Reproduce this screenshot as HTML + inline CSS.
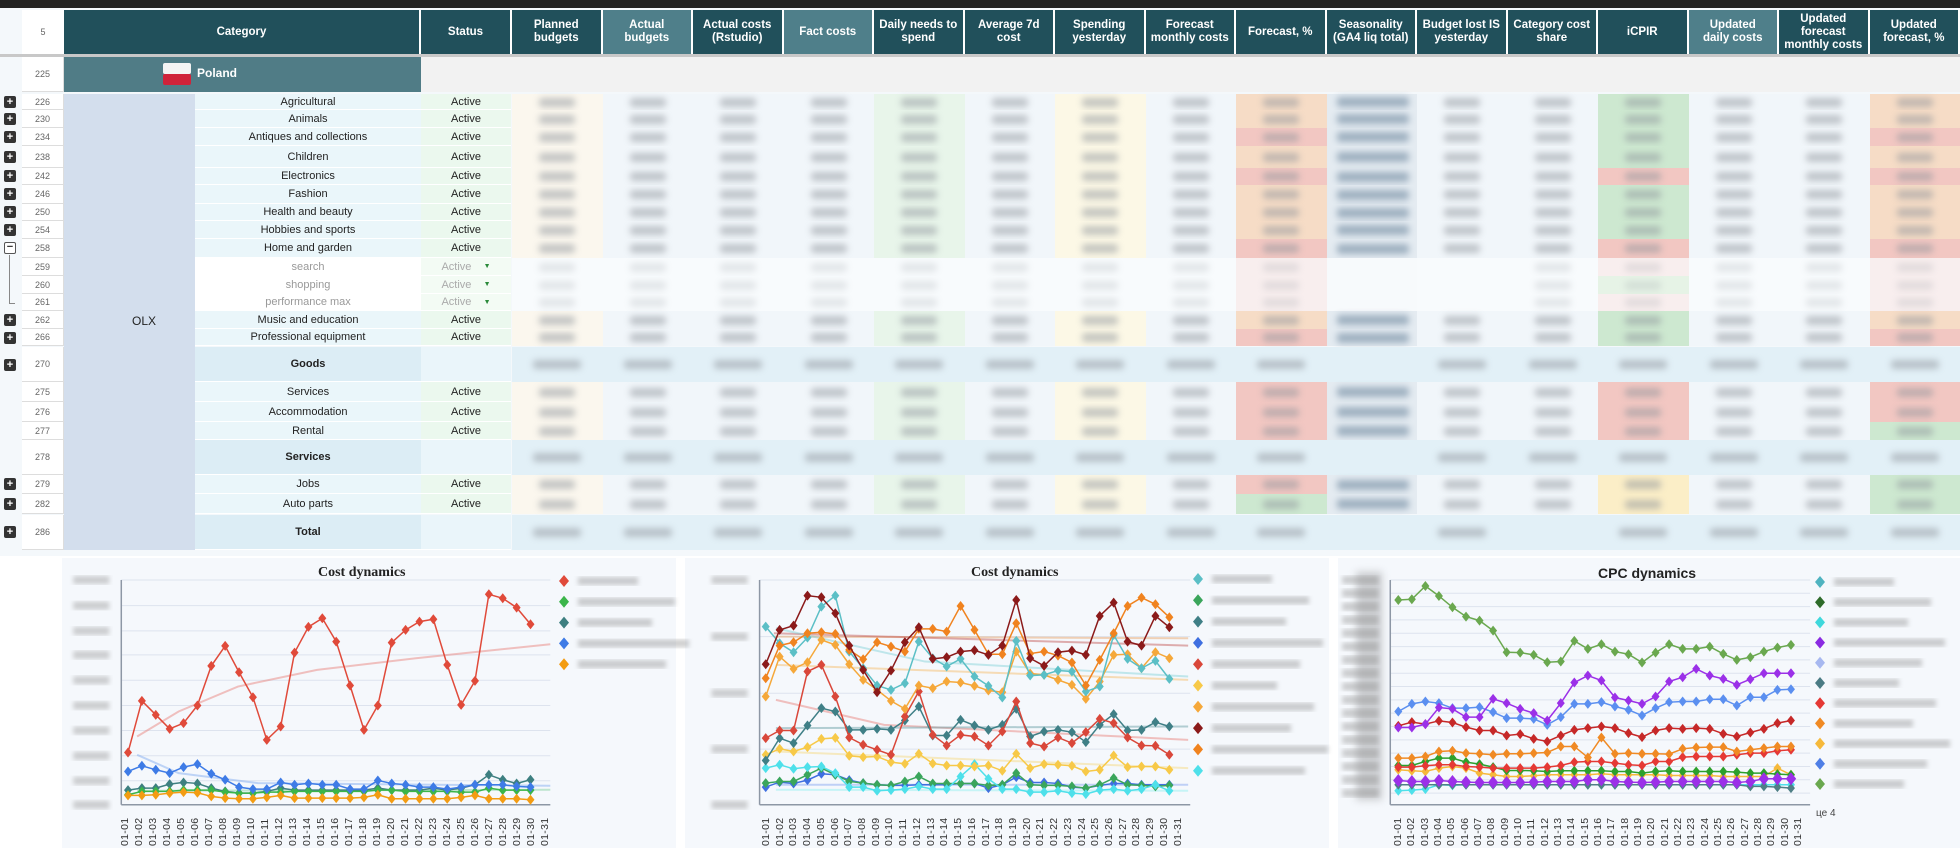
<!DOCTYPE html>
<html><head><meta charset="utf-8">
<style>
*{margin:0;padding:0;box-sizing:border-box}
body{width:1960px;height:848px;background:#fff;position:relative;overflow:hidden;font-family:"Liberation Sans",Arial,sans-serif}
.a{position:absolute}
.hd{position:absolute;top:10px;height:44px;background:#21505b;color:#fff;font-weight:bold;font-size:11.5px;display:flex;align-items:center;justify-content:center;text-align:center;line-height:13px;border-right:2px solid #fff}
.hd.l{background:#4f7f8a}
.rn{position:absolute;left:22px;width:42px;font-size:9px;color:#666;display:flex;align-items:center;justify-content:center;background:#fff;border-bottom:1px solid #ddd;border-right:1px solid #ddd}
.cat{position:absolute;left:195px;width:226px;font-size:11px;color:#222;display:flex;align-items:center;justify-content:center;background:#eaf6fa;border-bottom:1px solid #fff}
.st{position:absolute;left:421px;width:90px;font-size:11px;color:#222;display:flex;align-items:center;justify-content:center;background:#ebf8ee;border-bottom:1px solid #fff}
.sub{color:#999;background:#fff}
.sts{color:#aaa;background:#f3fbf4}
.pl{position:absolute;left:4px;width:12px;height:12px;background:#333;border-radius:2px;color:#fff;font-size:11px;line-height:12px;text-align:center;font-weight:bold}
.blob{position:absolute;height:9px;background:#8d939a;filter:blur(3.5px);opacity:.5;border-radius:3px}
.xl{position:absolute;display:flex;justify-content:space-between;top:806px;height:40px}
.xl span{writing-mode:vertical-rl;transform:rotate(180deg);font-size:10.5px;color:#333;font-family:"Liberation Sans",sans-serif;letter-spacing:.3px}
.ttl{position:absolute;font-family:"Liberation Serif",serif;font-weight:bold;font-size:14px;color:#222}
</style></head><body>
<div class="a" style="left:0;top:0;width:1960px;height:8px;background:#222"></div>
<div class="a" style="left:0;top:8px;width:1960px;height:548px;background:#f4f8fb"></div>
<div class="a" style="left:22px;top:10px;width:42px;height:44px;background:#fff;font-size:9px;color:#666;display:flex;align-items:center;justify-content:center">5</div>
<div class="hd" style="left:64px;width:357px">Category</div>
<div class="hd" style="left:421px;width:91px">Status</div>
<div class="hd" style="left:512px;width:90.5px">Planned<br>budgets</div>
<div class="hd l" style="left:602.5px;width:90.5px">Actual<br>budgets</div>
<div class="hd" style="left:693px;width:90.5px">Actual costs<br>(Rstudio)</div>
<div class="hd l" style="left:783.5px;width:90.5px">Fact costs</div>
<div class="hd" style="left:874px;width:90.5px">Daily needs to<br>spend</div>
<div class="hd" style="left:964.5px;width:90.5px">Average 7d<br>cost</div>
<div class="hd" style="left:1055px;width:90.5px">Spending<br>yesterday</div>
<div class="hd" style="left:1145.5px;width:90.5px">Forecast<br>monthly costs</div>
<div class="hd" style="left:1236px;width:90.5px">Forecast, %</div>
<div class="hd" style="left:1326.5px;width:90.5px">Seasonality<br>(GA4 liq total)</div>
<div class="hd" style="left:1417px;width:90.5px">Budget lost IS<br>yesterday</div>
<div class="hd" style="left:1507.5px;width:90.5px">Category cost<br>share</div>
<div class="hd" style="left:1598px;width:90.5px">iCPIR</div>
<div class="hd l" style="left:1688.5px;width:90.5px">Updated<br>daily costs</div>
<div class="hd" style="left:1779px;width:90.5px">Updated<br>forecast<br>monthly costs</div>
<div class="hd" style="left:1869.5px;width:90.5px">Updated<br>forecast, %</div>
<div class="a" style="left:0;top:54px;width:1960px;height:3px;background:#c8c8c8"></div>
<div class="a" style="left:64px;top:57px;width:1896px;height:35px;background:#f2f2f2"></div>
<div class="a" style="left:64px;top:57px;width:357px;height:35px;background:#507c86"></div>
<div class="a" style="left:163px;top:63px;width:28px;height:11px;background:#f4f4f4;border-radius:2px"></div>
<div class="a" style="left:163px;top:74px;width:28px;height:11px;background:#d0233a;border-radius:2px"></div>
<div class="a" style="left:197px;top:66px;color:#fff;font-weight:bold;font-size:12px">Poland</div>
<div class="rn" style="top:57px;height:35px">225</div>
<div class="a" style="left:64px;top:94px;width:131px;height:456px;background:#d3deed"></div>
<div class="a" style="left:132px;top:314px;font-size:12px;color:#222">OLX</div>
<div id="cells"></div>

<div class="rn" style="top:94px;height:16px">226</div><div class="cat" style="top:94px;height:16px">Agricultural</div><div class="st" style="top:94px;height:16px">Active</div>
<div class="rn" style="top:110px;height:18px">230</div><div class="cat" style="top:110px;height:18px">Animals</div><div class="st" style="top:110px;height:18px">Active</div>
<div class="rn" style="top:128px;height:18px">234</div><div class="cat" style="top:128px;height:18px">Antiques and collections</div><div class="st" style="top:128px;height:18px">Active</div>
<div class="rn" style="top:146px;height:22px">238</div><div class="cat" style="top:146px;height:22px">Children</div><div class="st" style="top:146px;height:22px">Active</div>
<div class="rn" style="top:168px;height:17px">242</div><div class="cat" style="top:168px;height:17px">Electronics</div><div class="st" style="top:168px;height:17px">Active</div>
<div class="rn" style="top:185px;height:19px">246</div><div class="cat" style="top:185px;height:19px">Fashion</div><div class="st" style="top:185px;height:19px">Active</div>
<div class="rn" style="top:204px;height:17px">250</div><div class="cat" style="top:204px;height:17px">Health and beauty</div><div class="st" style="top:204px;height:17px">Active</div>
<div class="rn" style="top:221px;height:18px">254</div><div class="cat" style="top:221px;height:18px">Hobbies and sports</div><div class="st" style="top:221px;height:18px">Active</div>
<div class="rn" style="top:239px;height:19px">258</div><div class="cat" style="top:239px;height:19px">Home and garden</div><div class="st" style="top:239px;height:19px">Active</div>
<div class="rn" style="top:258px;height:18px">259</div><div class="cat sub" style="top:258px;height:18px">search</div><div class="st sts" style="top:258px;height:18px">Active&nbsp;&nbsp;&nbsp;&nbsp;<span style="color:#2a8a3a;font-size:7px">▼</span></div>
<div class="rn" style="top:276px;height:18px">260</div><div class="cat sub" style="top:276px;height:18px">shopping</div><div class="st sts" style="top:276px;height:18px">Active&nbsp;&nbsp;&nbsp;&nbsp;<span style="color:#2a8a3a;font-size:7px">▼</span></div>
<div class="rn" style="top:294px;height:17px">261</div><div class="cat sub" style="top:294px;height:17px">performance max</div><div class="st sts" style="top:294px;height:17px">Active&nbsp;&nbsp;&nbsp;&nbsp;<span style="color:#2a8a3a;font-size:7px">▼</span></div>
<div class="rn" style="top:311px;height:18px">262</div><div class="cat" style="top:311px;height:18px">Music and education</div><div class="st" style="top:311px;height:18px">Active</div>
<div class="rn" style="top:329px;height:17px">266</div><div class="cat" style="top:329px;height:17px">Professional equipment</div><div class="st" style="top:329px;height:17px">Active</div>
<div class="rn" style="top:347px;height:35px">270</div><div class="cat" style="top:347px;height:35px;background:#dcedf5;font-weight:bold">Goods</div><div class="st" style="top:347px;height:35px;background:#eaf5fa"></div>
<div class="rn" style="top:382px;height:20px">275</div><div class="cat" style="top:382px;height:20px">Services</div><div class="st" style="top:382px;height:20px">Active</div>
<div class="rn" style="top:402px;height:20px">276</div><div class="cat" style="top:402px;height:20px">Accommodation</div><div class="st" style="top:402px;height:20px">Active</div>
<div class="rn" style="top:422px;height:18px">277</div><div class="cat" style="top:422px;height:18px">Rental</div><div class="st" style="top:422px;height:18px">Active</div>
<div class="rn" style="top:440px;height:35px">278</div><div class="cat" style="top:440px;height:35px;background:#dcedf5;font-weight:bold">Services</div><div class="st" style="top:440px;height:35px;background:#eaf5fa"></div>
<div class="rn" style="top:475px;height:19px">279</div><div class="cat" style="top:475px;height:19px">Jobs</div><div class="st" style="top:475px;height:19px">Active</div>
<div class="rn" style="top:494px;height:20px">282</div><div class="cat" style="top:494px;height:20px">Auto parts</div><div class="st" style="top:494px;height:20px">Active</div>
<div class="rn" style="top:515px;height:35px">286</div><div class="cat" style="top:515px;height:35px;background:#dcedf5;font-weight:bold">Total</div><div class="st" style="top:515px;height:35px;background:#eaf5fa"></div>
<div id="pls"></div>

<div class="a" style="left:62px;top:558px;width:614px;height:290px;background:#f5f8fc"></div>
<div class="a" style="left:685px;top:558px;width:644px;height:290px;background:#f5f8fc"></div>
<div class="a" style="left:1338px;top:558px;width:622px;height:290px;background:#f5f8fc"></div>
<div class="a" style="left:1356px;top:572px;width:26px;height:228px;background:#c8cacd;filter:blur(4px)"></div>
<svg class="a" id="ch" style="left:0;top:0" width="1960" height="848"></svg>
<div class="ttl" style="left:318px;top:565px">Cost dynamics</div>
<div class="ttl" style="left:971px;top:565px">Cost dynamics</div>
<div class="ttl" style="left:1598px;top:565px;font-family:'Liberation Sans',sans-serif">CPC dynamics</div>
<div class="a" style="left:1816px;top:808px;font-size:10px;color:#444">це 4</div>
<div class="xl" style="left:119px;width:432px"><span>01-01</span><span>01-02</span><span>01-03</span><span>01-04</span><span>01-05</span><span>01-06</span><span>01-07</span><span>01-08</span><span>01-09</span><span>01-10</span><span>01-11</span><span>01-12</span><span>01-13</span><span>01-14</span><span>01-15</span><span>01-16</span><span>01-17</span><span>01-18</span><span>01-19</span><span>01-20</span><span>01-21</span><span>01-22</span><span>01-23</span><span>01-24</span><span>01-25</span><span>01-26</span><span>01-27</span><span>01-28</span><span>01-29</span><span>01-30</span><span>01-31</span></div>
<div class="xl" style="left:760px;width:424px"><span>01-01</span><span>01-02</span><span>01-03</span><span>01-04</span><span>01-05</span><span>01-06</span><span>01-07</span><span>01-08</span><span>01-09</span><span>01-10</span><span>01-11</span><span>01-12</span><span>01-13</span><span>01-14</span><span>01-15</span><span>01-16</span><span>01-17</span><span>01-18</span><span>01-19</span><span>01-20</span><span>01-21</span><span>01-22</span><span>01-23</span><span>01-24</span><span>01-25</span><span>01-26</span><span>01-27</span><span>01-28</span><span>01-29</span><span>01-30</span><span>01-31</span></div>
<div class="xl" style="left:1392px;width:412px"><span>01-01</span><span>01-02</span><span>01-03</span><span>01-04</span><span>01-05</span><span>01-06</span><span>01-07</span><span>01-08</span><span>01-09</span><span>01-10</span><span>01-11</span><span>01-12</span><span>01-13</span><span>01-14</span><span>01-15</span><span>01-16</span><span>01-17</span><span>01-18</span><span>01-19</span><span>01-20</span><span>01-21</span><span>01-22</span><span>01-23</span><span>01-24</span><span>01-25</span><span>01-26</span><span>01-27</span><span>01-28</span><span>01-29</span><span>01-30</span><span>01-31</span></div>

<script>
(function(){
var rows=[[94,16,'n'],[110,18,'n'],[128,18,'n'],[146,22,'n'],[168,17,'n'],[185,19,'n'],[204,17,'n'],[221,18,'n'],[239,19,'n'],[258,18,'s'],[276,18,'s'],[294,17,'s'],[311,18,'n'],[329,17,'n'],[347,35,'t'],[382,20,'n'],[402,20,'n'],[422,18,'n'],[440,35,'t'],[475,19,'n'],[494,20,'n'],[515,35,'t']];
var P='#f6dcc6',R='#f2c7c2',G='#cde8d0',YL='#fbeec7',K='#f8eeee';
var fc=[P,P,R,P,R,P,P,P,R,K,K,K,P,R,null,R,R,R,null,R,G,null];
var ic=[G,G,G,G,R,G,G,G,R,K,'#e6f3e6',K,G,G,null,R,R,R,null,YL,YL,null];
var uc=[P,P,R,P,R,P,P,P,R,K,K,K,P,R,null,R,R,G,null,G,G,null];
var base=['#fbf7ee','#f1f6fa','#f1f6fa','#f1f6fa','#e8f5ea','#f1f6fa','#fcf8e6','#f1f6fa',null,'#f1f6fa','#f1f6fa','#f1f6fa',null,'#f1f6fa','#f1f6fa',null];
var h='';
rows.forEach(function(r,i){
 for(var c=0;c<16;c++){
  var x=512+c*90.5,bg;
  if(r[2]=='t')bg='#e2f0f7';
  else if(c==8)bg=fc[i];else if(c==12)bg=ic[i];else if(c==15)bg=uc[i];
  else if(c==9)bg=r[2]=='s'?'#f7fafc':'#e4ebf1';
  else bg=r[2]=='s'?'#f8fbfd':base[c];
  h+='<div class="a" style="left:'+x+'px;top:'+r[0]+'px;width:91px;height:'+r[1]+'px;background:'+bg+'"></div>';
  var skip=(r[2]=='t'&&(c==9||(i==21&&(c==11))))||(r[2]=='s'&&(c==9||c==10));
  if(c==9&&r[2]=='n'){h+='<div class="blob" style="left:'+(x+10)+'px;top:'+(r[0]+r[1]/2-5)+'px;width:72px;height:10px;background:#4a6a86;opacity:.45"></div>';continue;}
  if(!skip){var w=r[2]=='t'?48:36;h+='<div class="blob" style="left:'+(x+45-w/2)+'px;top:'+(r[0]+r[1]/2-4.5)+'px;width:'+w+'px;'+(r[2]=='s'?'opacity:.2':'')+'"></div>';}
 }
});
document.getElementById('cells').innerHTML=h;
var p='';
[102,119,137,157,176,194,212,230,320,338,365,484,504,532].forEach(function(y){p+='<div class="pl" style="top:'+(y-6)+'px">+</div>';});
p+='<div class="pl" style="top:242px;background:#fff;border:1px solid #555;color:#333;line-height:9px">−</div><div class="a" style="left:9px;top:255px;width:1px;height:48px;background:#888"></div><div class="a" style="left:9px;top:303px;width:6px;height:1px;background:#888"></div>';
document.getElementById('pls').innerHTML=p;

var s='<defs><filter id="b"><feGaussianBlur stdDeviation="2.5"/></filter></defs>';
function YY(v){return 555+v*0.333;}
function chart(ox,sc,x0,dx,grid,axL,axR,series,trends,leg,legX,legY0,legDy,ds){
 grid.forEach(function(g){s+='<line x1="'+(ox+axL*sc)+'" x2="'+(ox+axR*sc)+'" y1="'+YY(g)+'" y2="'+YY(g)+'" stroke="#dde3ee" stroke-width="1"/>';});
 s+='<line x1="'+(ox+axL*sc)+'" x2="'+(ox+axL*sc)+'" y1="'+YY(75)+'" y2="'+YY(750)+'" stroke="#8d97a5" stroke-width="1.5"/>';
 s+='<line x1="'+(ox+axL*sc)+'" x2="'+(ox+axR*sc)+'" y1="'+YY(750)+'" y2="'+YY(750)+'" stroke="#8d97a5" stroke-width="1.5"/>';
 grid.forEach(function(g){s+='<rect x="'+(ox+axL*sc-48)+'" y="'+(YY(g)-4)+'" width="36" height="8" fill="#999" opacity=".45" filter="url(#b)"/>';});
 trends.forEach(function(t){s+='<polyline fill="none" stroke="'+t[0]+'" stroke-width="2" opacity=".45" points="'+t[1].map(function(q){return (ox+q[0]*sc)+','+YY(q[1]);}).join(' ')+'"/>';});
 series.forEach(function(se){
  var pts=se[1].map(function(v,i){return [ox+(x0+i*dx)*sc,YY(v)];});
  s+='<polyline fill="none" stroke="'+se[0]+'" stroke-width="1.5" points="'+pts.map(function(q){return q.join(',');}).join(' ')+'"/>';
  var d=se[2]||ds;
  pts.forEach(function(q){s+='<path d="M'+q[0]+' '+(q[1]-d)+'L'+(q[0]+d*.8)+' '+q[1]+'L'+q[0]+' '+(q[1]+d)+'L'+(q[0]-d*.8)+' '+q[1]+'Z" fill="'+se[0]+'"/>';});
 });
 leg.forEach(function(c,i){var y=legY0+i*legDy;s+='<path d="M'+legX+' '+(y-6)+'L'+(legX+5)+' '+y+'L'+legX+' '+(y+6)+'L'+(legX-5)+' '+y+'Z" fill="'+c+'"/><rect x="'+(legX+14)+'" y="'+(y-4)+'" width="'+(60+(i*37)%60)+'" height="8" fill="#888" opacity=".4" filter="url(#b)"/>';});
}
var sc1=620/1568;
chart(60,sc1,172,35.1,[75,152,228,300,376,452,527,603,678,750],155,1240,[
['#3d7f80',[706,700,700,688,683,686,700,710,715,715,710,700,706,706,706,706,706,706,700,706,706,706,700,706,700,690,660,675,686,675]],
['#3bb54a',[720,710,710,710,706,706,706,712,715,715,712,712,710,710,710,710,710,710,706,706,710,710,710,710,712,712,700,706,706,706]],
['#f39c12',[722,722,720,715,712,714,725,730,732,732,728,722,730,730,730,730,730,728,720,732,732,732,732,732,728,722,732,732,732,735]],
['#3e7be6',[650,633,645,655,637,628,657,675,697,703,703,683,690,686,690,690,703,703,677,686,690,697,697,703,697,690,690,690,695,697]],
['#e04a3a',[593,438,480,522,505,452,333,273,352,427,555,515,293,216,190,260,392,525,452,263,225,200,193,330,450,378,118,130,158,208]]
],[['#e87b74',[[195,545],[300,470],[450,395],[650,345],[900,310],[1240,268]]],['#7aa6f0',[[195,600],[300,655],[500,685],[1240,693]]],['#7ccf9a',[[195,708],[1240,705]]]],
['#e04a3a','#3bb54a','#3d7f80','#3e7be6','#f39c12'],564,581,20.8,5);
var sc2=640/1568;
chart(680,sc2,210,34.1,[75,245,415,583,750],195,1250,[
['#3f6fe0',[697,682,686,676,657,660,676,685,690,692,692,690,690,690,686,686,700,690,667,683,683,686,697,700,692,686,686,690,690,690]],
['#3aa55b',[685,680,680,660,640,660,680,685,690,692,680,665,686,686,686,686,692,690,655,690,692,692,695,700,690,670,690,692,695,692]],
['#4ee0ea',[640,630,642,637,635,655,697,697,708,706,703,695,703,703,665,628,672,703,703,712,712,708,715,718,706,703,708,703,690,708]],
['#f7c948',[600,582,590,577,552,549,603,607,605,622,627,597,626,632,632,635,632,648,597,640,628,630,633,650,645,602,637,635,635,645]],
['#3f7f86',[617,550,565,512,460,470,525,525,522,525,497,455,542,542,495,512,525,510,462,545,530,525,532,562,510,478,527,525,502,515]],
['#d9473a',[550,527,527,350,330,425,548,570,585,600,485,410,540,572,540,545,572,530,440,565,575,548,565,532,492,505,548,572,573,600]],
['#f5a83a',[425,305,342,322,255,270,328,375,405,438,462,392,400,380,383,393,407,412,290,356,360,375,390,432,380,300,298,340,292,310]],
['#5bbfc6',[215,265,292,248,155,122,290,340,392,405,385,260,310,335,312,365,393,428,258,362,360,347,350,410,395,240,312,340,318,372]],
['#f0831f',[370,272,262,235,232,237,285,313,262,275,290,222,222,230,153,225,298,298,205,296,290,302,323,392,315,235,153,128,148,187]],
['#8b1a1a',[328,225,212,122,127,175,272,345,412,347,262,217,312,307,290,286,300,272,135,310,333,292,287,300,183,143,260,272,183,217]]
],[['#e8a060',[[230,245],[1245,250]]],['#c0504d',[[230,235],[1245,272]]],['#7fd0d6',[[235,220],[600,320],[1245,365]]],['#f7b860',[[235,330],[1245,375]]],['#e87b74',[[235,435],[500,510],[1245,555]]],['#5f9aa0',[[235,520],[1245,515]]],['#f7d878',[[235,590],[1245,640]]],['#7fa0f0',[[235,690],[1245,690]]],['#8ef0f0',[[235,705],[1245,708]]]],
['#5bbfc6','#3aa55b','#3f7f86','#3f6fe0','#d9473a','#f7c948','#f5a83a','#8b1a1a','#f0831f','#4ee0ea'],1198,579,21.3,5);
var sc3=630/1568;
var g3=[];for(var g=75;g<=750;g+=40)g3.push(g);
chart(1330,sc3,170,33.7,g3,150,1195,[
['#4ee0ea',[708,706,703,690,692,690,690,690,690,690,690,690,690,690,690,690,690,690,690,690,690,690,690,690,690,690,690,690,690,690]],
['#4f7f86',[690,690,690,690,690,690,690,690,690,690,690,690,690,690,690,690,690,690,690,690,690,690,690,690,690,690,695,695,697,700]],
['#f6b93b',[645,648,650,640,635,640,655,660,665,665,663,660,660,660,660,657,660,660,660,660,662,662,662,662,665,665,665,665,640,660]],
['#2ca02c',[632,632,620,610,610,622,628,637,647,647,648,650,648,648,648,648,650,650,655,650,648,650,650,650,650,652,655,655,658,660]],
['#e53935',[637,637,633,630,630,635,637,640,640,640,640,637,632,622,620,620,625,630,632,620,620,607,605,605,605,600,595,595,588,585]],
['#f08a24',[610,610,605,590,588,595,597,600,597,597,595,593,575,575,608,548,597,595,597,597,598,582,578,577,577,590,585,580,575,575]],
['#9b30e8',[677,680,680,677,680,682,683,683,683,683,682,680,680,680,675,675,680,682,683,682,680,680,680,680,680,683,680,672,672,672],6.5],
['#c62828',[513,502,508,498,503,517,527,527,542,538,552,560,542,525,520,515,520,535,547,527,520,522,520,522,537,545,533,522,505,497]],
['#5b8ff0',[470,447,440,445,460,460,457,472,490,490,492,510,487,447,447,442,455,465,482,460,442,440,440,433,433,452,427,427,405,403]],
['#9b30e8',[518,518,508,458,462,487,487,432,445,462,475,497,445,383,362,377,428,437,447,425,380,367,342,362,372,390,373,355,355,355]],
['#6aa84f',[135,133,93,123,157,185,197,227,292,293,300,322,320,258,282,268,290,298,323,293,268,282,282,275,297,315,307,290,278,270]]
],[],
['#4fb3c0','#2e6b2a','#3fd8dc','#8a2be2','#a7b8f0','#4b7b84','#e53935','#f08a24','#f6b93b','#4f7fe6','#6aa84f'],1820,582,20.2,5);
document.getElementById('ch').innerHTML=s;
})();
</script>
</body></html>
